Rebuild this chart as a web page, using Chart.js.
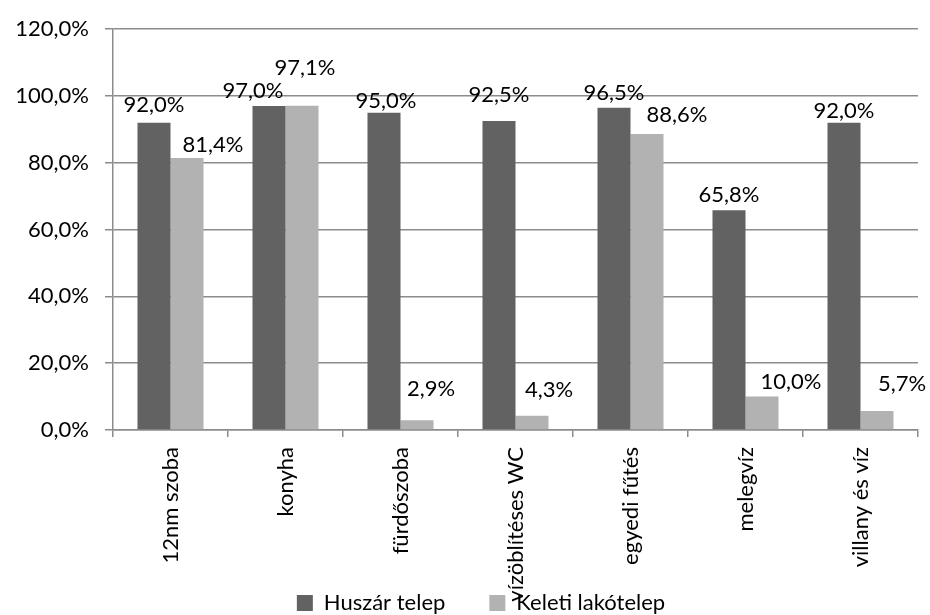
<!DOCTYPE html>
<html>
<head>
<meta charset="utf-8">
<script src="https://cdn.jsdelivr.net/npm/chart.js@4.4.1/dist/chart.umd.min.js"></script>
<style>
  html, body { margin: 0; padding: 0; background: #fff; }
  #wrap { width: 930px; height: 615px; }
</style>
</head>
<body>
<div id="wrap"><canvas id="chart"></canvas></div>
<script>
// chart data
const categories = ['12nm szoba', 'konyha', 'fürdőszoba', 'vízöblítéses WC', 'egyedi fűtés', 'melegvíz', 'villany és víz'];
const huszarTelep = [0.920, 0.970, 0.950, 0.925, 0.965, 0.658, 0.920];
const keletiLakotelep = [0.814, 0.971, 0.029, 0.043, 0.886, 0.100, 0.057];
const seriesNames = ['Huszár telep', 'Keleti lakótelep'];
const yTicks = [0, 0.2, 0.4, 0.6, 0.8, 1.0, 1.2];

const FONT = 'Lato';
const FSIZE = 22;
const GRID = '#8c8c8c';

function pct(v) {
  return (v * 100).toFixed(1).replace('.', ',') + '%';
}

// hand placed label nudges (as in the original), px from the bar top centre
const labelNudge = [
  [[0, -18], [-16, -15], [2, -12], [0, -26], [0, -15], [0, -15], [0, -12]],
  [[26, -13], [3, -38], [14, -31], [17, -26], [30, -19], [29, -15], [25, -27]]
];

const valueLabels = {
  id: 'valueLabels',
  afterDatasetsDraw(chart) {
    const ctx = chart.ctx;
    ctx.save();
    ctx.font = FSIZE + 'px ' + FONT;
    ctx.fillStyle = '#000';
    ctx.textAlign = 'center';
    ctx.textBaseline = 'middle';
    chart.data.datasets.forEach((ds, di) => {
      chart.getDatasetMeta(di).data.forEach((bar, i) => {
        const n = labelNudge[di][i];
        ctx.fillText(pct(ds.data[i]), bar.x + n[0], bar.y + n[1]);
      });
    });
    ctx.restore();
  }
};

// the legend sits over the bottom of the long category labels, like in the original
const legendPlace = {
  id: 'legendPlace',
  afterLayout(chart) {
    const lg = chart.legend;
    lg.left += 44;
    lg.top = 615 - 12 - lg.options.labels.padding - 11;
  }
};

new Chart(document.getElementById('chart'), {
  type: 'bar',
  data: {
    labels: categories,
    datasets: [
      { label: seriesNames[0], data: huszarTelep, backgroundColor: '#626262' },
      { label: seriesNames[1], data: keletiLakotelep, backgroundColor: '#b2b2b2' }
    ]
  },
  options: {
    responsive: true,
    maintainAspectRatio: false,
    animation: false,
    layout: { padding: { left: 0, right: 12, top: 25, bottom: 0 } },
    datasets: { bar: { categoryPercentage: 0.574, barPercentage: 1.0 } },
    plugins: {
      legend: {
        position: 'bottom',
        maxHeight: 10,
        labels: {
          font: { family: FONT, size: FSIZE },
          color: '#000',
          boxWidth: 16,
          boxHeight: 16,
          padding: 44
        }
      },
      tooltip: { enabled: false }
    },
    scales: {
      x: {
        afterFit(scale) { scale.height = 175; },
        grid: {
          offset: true,
          drawOnChartArea: false,
          color: GRID,
          lineWidth: 1.5,
          tickLength: 7
        },
        border: { color: GRID, width: 1.5 },
        ticks: {
          font: { family: FONT, size: FSIZE },
          color: '#000',
          minRotation: 90,
          maxRotation: 90,
          padding: 10
        }
      },
      y: {
        min: 0,
        max: 1.2,
        afterFit(scale) { scale.width = 113; },
        afterBuildTicks(scale) { scale.ticks = yTicks.map(v => ({ value: v })); },
        grid: { color: GRID, lineWidth: 1.5, tickLength: 8 },
        border: { color: GRID, width: 1.5 },
        ticks: {
          font: { family: FONT, size: FSIZE },
          color: '#000',
          padding: 16,
          callback: v => pct(v)
        }
      }
    }
  },
  plugins: [valueLabels, legendPlace]
});
</script>
</body>
</html>
